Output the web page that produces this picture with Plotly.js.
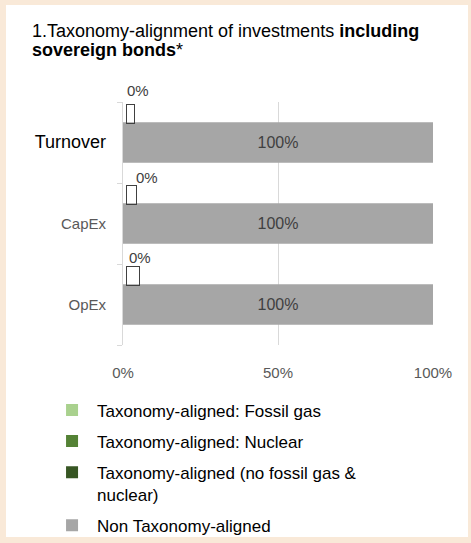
<!DOCTYPE html>
<html>
<head>
<meta charset="utf-8">
<script src="https://cdn.plot.ly/plotly-3.0.1.min.js"></script>
<style>
  html, body { margin: 0; padding: 0; background: #f9e9d8; width: 471px; height: 543px; overflow: hidden; }
  #panel { position: absolute; left: 6px; top: 5px; width: 462px; height: 532px; background: #ffffff; }
</style>
</head>
<body>
<div id="panel"></div>
<script>
// ---- data ----
const categories = ['Turnover', 'CapEx', 'OpEx'];
const fossilGas = [0, 0, 0];
const nuclear = [0, 0, 0];
const alignedNoFossilNuclear = [0, 0, 0];
const nonAligned = [100, 100, 100];
const xTickVals = [0, 50, 100];
const xTickText = ['0%', '50%', '100%'];
const seriesNames = [
  'Taxonomy-aligned: Fossil gas',
  'Taxonomy-aligned: Nuclear',
  'Taxonomy-aligned (no fossil gas &<br>nuclear)',
  'Non Taxonomy-aligned'
];

// ---- styles ----
const FONT = '"Liberation Sans", Arial, sans-serif';
const colors = ['#a9d18e', '#548235', '#375623', '#a6a6a6'];
const labelShift = [[2, 52], [11, 46], [4, 47]];   // x/y pixel shifts of the small "0%" labels
const boxWidth = [7, 9, 12];

const alignedTotal = categories.map((c, i) => fossilGas[i] + nuclear[i] + alignedNoFossilNuclear[i]);

function greenTrace(vals, idx) {
  return {
    type: 'bar', orientation: 'h', y: categories, x: vals,
    name: seriesNames[idx], legendgroup: 'g' + idx,
    marker: { color: colors[idx] }, offset: -0.5, width: 0.22,
    hoverinfo: 'skip'
  };
}

const traces = [
  greenTrace(fossilGas, 0),
  greenTrace(nuclear, 1),
  greenTrace(alignedNoFossilNuclear, 2),
  {
    type: 'bar', orientation: 'h', y: categories, x: nonAligned,
    name: seriesNames[3], legendgroup: 'g3',
    marker: { color: colors[3] }, offset: -0.25, width: 0.5,
    text: nonAligned.map(v => v + '%'), textposition: 'inside', insidetextanchor: 'middle',
    insidetextfont: { family: FONT, size: 16, color: '#404040' },
    hoverinfo: 'skip'
  }
];

const annotations = [
  { xref: 'paper', yref: 'paper', x: -0.3, y: 1.292, xanchor: 'left', yanchor: 'middle', showarrow: false,
    text: '1.Taxonomy-alignment of investments <b>including</b>', font: { family: FONT, size: 18, color: '#000' } },
  { xref: 'paper', yref: 'paper', x: -0.3, y: 1.216, xanchor: 'left', yanchor: 'middle', showarrow: false,
    text: '<b>sovereign bonds</b>*', font: { family: FONT, size: 18, color: '#000' } }
];
categories.forEach((c, i) => {
  annotations.push({
    xref: 'x', yref: 'y', x: alignedTotal[i], y: c, xanchor: 'left', yanchor: 'middle',
    xshift: labelShift[i][0], yshift: labelShift[i][1], showarrow: false,
    text: alignedTotal[i] + '%', font: { family: FONT, size: 15, color: '#404040' }
  });
  annotations.push({
    xref: 'x', yref: 'y', x: alignedTotal[i], y: c, xanchor: 'left', yanchor: 'bottom',
    xshift: 3, yshift: 19, showarrow: false, text: ' ', width: boxWidth[i], height: 18,
    bordercolor: '#404040', borderwidth: 1, borderpad: 0, bgcolor: 'rgba(255,255,255,0)'
  });
});

const tickText = categories.map((c, i) => i === 0
  ? '<span style="fill:#000000;font-size:18px">' + c + '</span>'
  : c);

const layout = {
  width: 462, height: 532,
  paper_bgcolor: '#ffffff', plot_bgcolor: '#ffffff',
  margin: { l: 117, r: 35, t: 97, b: 192, autoexpand: false },
  font: { family: FONT, color: '#000' },
  barmode: 'overlay',
  showlegend: true,
  xaxis: {
    range: [0, 100], tickvals: xTickVals, ticktext: xTickText,
    showgrid: true, gridcolor: '#d9d9d9', gridwidth: 1, zeroline: false, showline: false,
    ticks: '', tickfont: { family: FONT, size: 15, color: '#595959' }, ticklabelstandoff: 17,
    fixedrange: true
  },
  yaxis: {
    type: 'category', categoryorder: 'array', categoryarray: categories,
    range: [2.5, -0.5], tickvals: categories, ticktext: tickText,
    showgrid: false, zeroline: false, showline: true, linecolor: '#d9d9d9', linewidth: 1,
    ticks: 'outside', ticklen: 5, tickcolor: '#d9d9d9', tickson: 'boundaries',
    tickfont: { family: FONT, size: 15, color: '#595959' }, ticklabelstandoff: 13,
    fixedrange: true
  },
  legend: {
    orientation: 'v', x: -0.245, xanchor: 'left', y: -0.195, yanchor: 'top',
    font: { family: FONT, size: 17, color: '#000' },
    traceorder: 'grouped', tracegroupgap: 6, valign: 'top',
    bgcolor: 'rgba(0,0,0,0)', itemwidth: 40
  },
  annotations: annotations
};

Plotly.newPlot('panel', traces, layout, { displayModeBar: false, staticPlot: true });
</script>
</body>
</html>
